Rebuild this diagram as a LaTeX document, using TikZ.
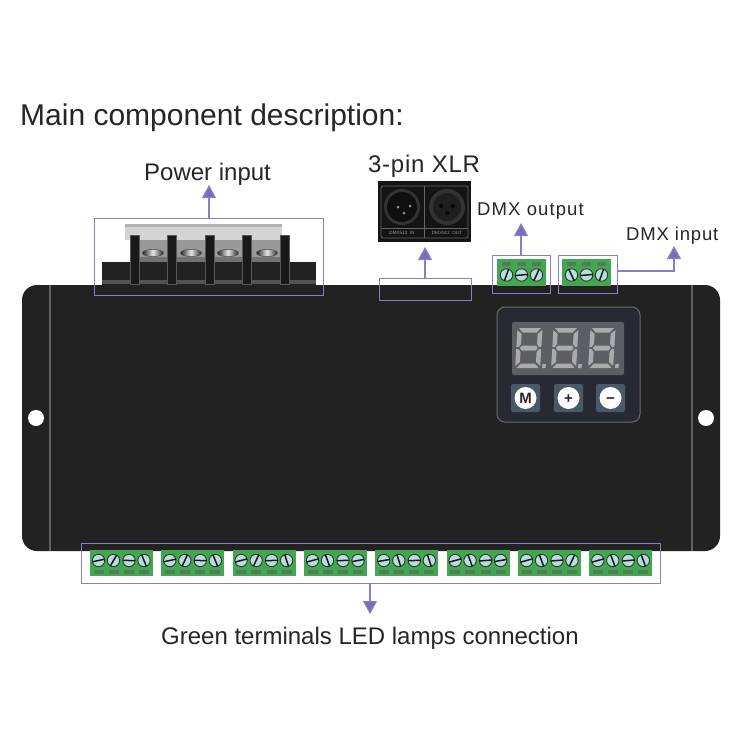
\documentclass[tikz,border=0pt]{standalone}
\usepackage{fontspec}
\setmainfont{Liberation Sans}
\usetikzlibrary{arrows.meta}
\definecolor{lav}{HTML}{8A7FC2}
\definecolor{lavd}{HTML}{7B6DB8}
\definecolor{body}{HTML}{222222}
\definecolor{tgreen}{HTML}{44A652}
\definecolor{tpin}{HTML}{4F7F55}
\definecolor{tscrew}{HTML}{B6DEDC}
\definecolor{seg}{HTML}{ABABAB}
\tikzset{
 x=1pt,y=-1pt,
 lblbox/.style={draw=lav,line width=1pt,inner sep=0pt,fill=none},
 conn/.style={draw=lav,line width=1.2pt,-{Triangle[length=13pt,width=14pt,fill=lavd]}},
 lbltext/.style={anchor=base west,inner sep=0pt,text=black!85},
}
\newcommand{\tscrew}[3]{%
 \fill[tscrew] (#1,#2) circle[radius=6.2];
 \draw[black!80,line width=.9pt] (#1,#2) circle[radius=6.2];
 \draw[black!90,line width=1.5pt] (#1,#2) ++(#3:6.2) -- ++(#3+180:12.4);
}
\newcommand{\bterm}[5]{%
 \fill[tgreen] (#1,550) rectangle ++(63,26);
 \foreach \o/\a in {8.5/#2,23.5/#3,39/#4,54/#5}{
  \fill[tpin] (#1+\o-5,570) rectangle ++(10,4);
  \tscrew{#1+\o}{560.5}{\a}
 }
}
\newcommand{\tterm}[4]{%
 \fill[tgreen] (#1,259) rectangle ++(49,27);
 \foreach \o/\a in {9.5/#2,24.5/#3,39.5/#4}{
  \fill[tpin] (#1+\o-4.5,262) rectangle ++(9,3.5);
  \tscrew{#1+\o}{275}{\a}
 }
}
\newcommand{\sevseg}[2]{%
 \begin{scope}[shift={(#1,#2)},xslant=.06]
  \fill[seg] (2,0)--(24,0)--(20,4.5)--(6,4.5)--cycle;
  \fill[seg] (6,17.5)--(20,17.5)--(22,20)--(20,22.5)--(6,22.5)--(4,20)--cycle;
  \fill[seg] (2,40)--(24,40)--(20,35.5)--(6,35.5)--cycle;
  \fill[seg] (0.5,2)--(5,6)--(5,16)--(2.8,19)--(0.5,19)--cycle;
  \fill[seg] (25.5,2)--(21,6)--(21,16)--(23.2,19)--(25.5,19)--cycle;
  \fill[seg] (0.5,21)--(2.8,21)--(5,24)--(5,34)--(0.5,38)--cycle;
  \fill[seg] (25.5,21)--(23.2,21)--(21,24)--(21,34)--(25.5,38)--cycle;
  \fill[seg] (27.5,36)rectangle(31,40);
 \end{scope}
}
\newcommand{\pscrew}[1]{%
 \shade[left color=black!85,right color=black!85,middle color=black!10] (#1,253) ellipse[x radius=10.5,y radius=3.6];
 \draw[black!70,line width=.5pt] (#1,253) ellipse[x radius=10.5,y radius=3.6];
}
\begin{document}
\begin{tikzpicture}
\useasboundingbox (0,0) rectangle (750,750);
\fill[white] (0,0) rectangle (750,750);

\node[lbltext,font=\fontsize{30}{30}\selectfont] (title) at (20,125) {Main component description:};

% device
\fill[body,rounded corners=15pt] (22,285) rectangle (720,551);
\draw[black!62,line width=1.5pt] (50,285) -- (50,551);
\draw[black!62,line width=1.5pt] (692,285) -- (692,551);
\fill[white] (36,418) circle[radius=8];
\fill[white] (706,418) circle[radius=8];

% power terminal
\fill[body] (102,262) rectangle (316,285);
\fill[black!68] (102,280) rectangle (316,284);
\fill[black!40] (139,238) rectangle (281,258);
\fill[black!55] (139,257) rectangle (281,262);
\fill[black!17] (125,225) rectangle (282,240);
\fill[black!30] (125,224) rectangle (282,227);
\pscrew{153}\pscrew{191}\pscrew{228}\pscrew{267}
\foreach \x in {130,167,205,242,280}{
 \fill[black!90] (\x,235) rectangle ++(9,49);
 \draw[black!65,line width=.5pt] (\x,235) rectangle ++(9,49);
}

% XLR picture
\fill[black!92] (378,181) rectangle (471,242);
\draw[black!60,line width=.7pt,rounded corners=2pt] (381,186) rectangle (468,238);
\draw[black!60,line width=.7pt] (424,186) -- (424,238);
\draw[black!60,line width=.5pt] (381,228) -- (468,228);
\fill[black!80] (402,207) circle[radius=18];
\fill[black!94] (402,207) circle[radius=15];
\fill[black!80] (447,207) circle[radius=18];
\fill[black!88] (447,207) circle[radius=14];
\fill[black!45] (398,207) circle[radius=1.5] (410,206) circle[radius=1.5] (404,213) circle[radius=1.5];
\fill[black!98] (441,206) circle[radius=2] (453,206) circle[radius=2] (447,213) circle[radius=2];
\node[inner sep=0pt,text=black!40,font=\fontsize{4.6}{5}\selectfont] (xin) at (402,233) {DMX512\ \ IN};
\node[inner sep=0pt,text=black!40,font=\fontsize{4.6}{5}\selectfont] (xout) at (447,233) {DMX512\ \ OUT};

% top terminals
\tterm{497}{-70}{-5}{-65}
\tterm{562}{65}{-5}{-70}

% bottom terminals
\bterm{90}{-12}{-60}{2}{68}
\bterm{161.3}{-12}{-65}{2}{68}
\bterm{232.6}{-15}{-65}{-2}{72}
\bterm{304}{-15}{70}{-2}{-10}
\bterm{375.3}{-10}{72}{-2}{72}
\bterm{446.6}{-15}{70}{-5}{-10}
\bterm{518}{-15}{70}{-5}{-65}
\bterm{589.3}{-15}{70}{-5}{70}

% control panel
\draw[black!58,fill={rgb,255:red,39;green,42;blue,50},line width=1pt,rounded corners=8pt] (497,307) rectangle (640,422);
\fill[fill={rgb,255:red,93;green,94;blue,100},rounded corners=2pt] (512,322) rectangle (624,375);
\sevseg{517}{328}\sevseg{553}{328}\sevseg{590}{328}
\foreach \x/\n/\t in {511/bm/M,554/bp/+,596/bn/−}{
 \fill[fill={rgb,255:red,74;green,89;blue,104},rounded corners=2pt] (\x,384) rectangle ++(29,28);
 \node[circle,fill=white,minimum size=22pt,inner sep=0pt,text=black!85,font=\bfseries\fontsize{15}{15}\selectfont] (\n) at (\x+14.5,398) {\vphantom{M}\t};
}

% labels
\node[lbltext,font=\fontsize{24}{24}\selectfont] (lpower) at (144,180) {Power input};
\node[lbltext,font=\addfontfeature{LetterSpace=3}\fontsize{24}{24}\selectfont] (lxlr) at (368,172) {3-pin XLR};
\node[lbltext,font=\addfontfeature{LetterSpace=6}\fontsize{18.5}{18}\selectfont] (ldmxo) at (477,215) {DMX output};
\node[lbltext,font=\addfontfeature{LetterSpace=4.5}\fontsize{18.5}{18}\selectfont] (ldmxi) at (626,240) {DMX input};
\node[lbltext,font=\fontsize{24}{24}\selectfont] (lgreen) at (161,644) {Green terminals LED lamps connection};

% highlight boxes
\node[lblbox,minimum width=229pt,minimum height=77pt] (bpower) at (208.5,256.5) {};
\node[lblbox,minimum width=92pt,minimum height=22pt] (bxlr) at (425,289) {};
\node[lblbox,minimum width=58pt,minimum height=38pt] (bdmxo) at (521,274) {};
\node[lblbox,minimum width=59pt,minimum height=38pt] (bdmxi) at (587.5,274) {};
\node[lblbox,minimum width=579pt,minimum height=40pt] (bgreen) at (370.5,563) {};

% connectors
\coordinate (tpower) at (209,185);
\coordinate (txlr) at (425,247);
\coordinate (tdmxo) at (521,223);
\coordinate (tdmxi) at (674,246);
\coordinate (tgreen) at (370,614);
\draw[conn] (bpower.north -| tpower) -- (tpower);
\draw[conn] (bxlr.north) -- (txlr);
\draw[conn] (bdmxo.north) -- (tdmxo);
\draw[conn] (bdmxi.east |- 0,271) -| (tdmxi);
\draw[conn] (bgreen.south -| tgreen) -- (tgreen);
\end{tikzpicture}
\end{document}
